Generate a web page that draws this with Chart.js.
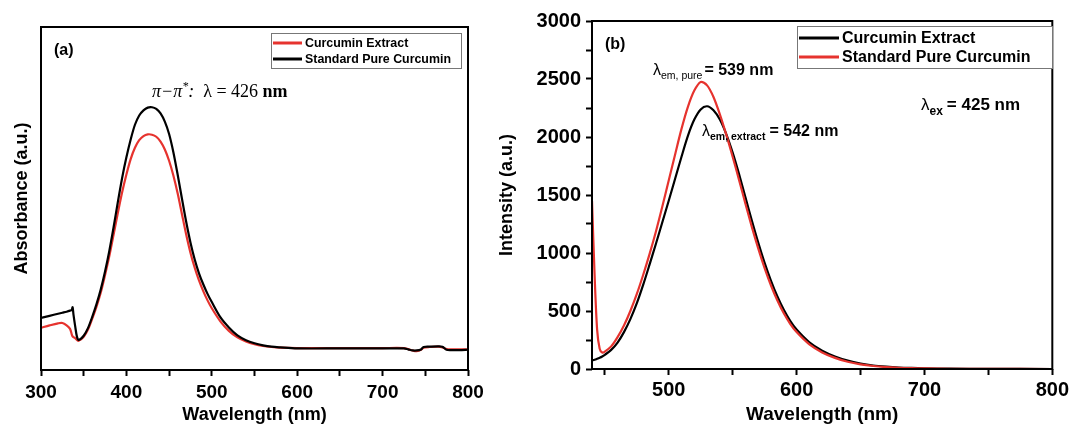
<!DOCTYPE html>
<html>
<head>
<meta charset="utf-8">
<script src="https://cdn.jsdelivr.net/npm/chart.js@4.4.0/dist/chart.umd.min.js"></script>
<style>
  body { margin: 0; background: #fff; }
  #wrap { position: relative; width: 1072px; height: 426px; overflow: hidden; background: #fff; }
  canvas { position: absolute; top: 0; }
</style>
</head>
<body>
<div id="wrap">
  <canvas id="absChart" width="490" height="426" style="left:0"></canvas>
  <canvas id="emChart" width="582" height="426" style="left:490px"></canvas>
</div>
<script>
// (a) UV-vis absorbance, arbitrary units (0..1 of the axis)
const absWavelength = [300,310,320,325,330,334,336,337,338,340,342,344,350,355,360,365,370,375,380,385,
  390,395,400,405,410,415,420,425,430,435,440,445,450,455,460,465,470,475,480,485,490,495,500,510,520,
  530,540,550,560,570,580,600,650,700,725,730,735,740,745,748,755,765,770,775,780,790,800];
const absExtract = [.123,.130,.136,.137,.130,.120,.104,.098,.096,.093,.088,.085,.097,.118,.150,.185,.226,.277,.332,.395,
  .458,.518,.570,.615,.648,.670,.682,.687,.686,.680,.666,.643,.610,.567,.515,.455,.395,.342,.298,.261,.230,.203,.180,.142,.114,
  .095,.083,.075,.070,.067,.065,.064,.064,.064,.064,.061,.057,.055,.059,.065,.067,.068,.066,.061,.060,.060,.060];
const absPure = [.152,.158,.164,.167,.170,.173,.175,.183,.162,.128,.098,.088,.100,.122,.155,.192,.235,.287,.347,.416,
  .490,.560,.620,.672,.715,.742,.757,.765,.766,.761,.748,.724,.688,.635,.570,.500,.432,.372,.322,.282,.250,.222,.198,.154,.124,
  .101,.087,.078,.072,.068,.066,.063,.063,.063,.063,.060,.057,.057,.060,.067,.068,.069,.068,.059,.058,.058,.059];

// (b) fluorescence emission, excitation 425 nm
const emWavelength = [440,442,444,446,448,450,455,460,465,470,475,480,485,490,495,500,505,510,515,520,
  525,530,535,540,545,550,555,560,565,570,575,580,585,590,595,600,610,620,630,640,650,660,670,680,690,
  700,720,750,800];
const emExtract = [75,80,88,97,108,122,165,228,318,430,565,725,900,1080,1265,1450,1640,1830,2010,2150,
  2238,2265,2230,2150,2025,1865,1680,1480,1280,1090,915,760,625,510,415,340,230,158,108,72,47,30,20,13,9,
  6,3,1,0];
const emPure = [1450,820,340,175,142,150,195,275,375,500,645,810,990,1185,1400,1625,1850,2070,2260,2400,
  2475,2445,2345,2195,2020,1830,1630,1425,1225,1040,870,720,590,480,390,318,212,143,96,62,40,26,17,11,7,
  5,2,1,0];

const RED = '#e6332e';
const BLACK = '#000000';
const SANS = '"Liberation Sans", Arial, sans-serif';
const SERIF = '"Liberation Serif", "Times New Roman", serif';

function points(xs, ys) {
  return xs.map((x, i) => ({ x: x, y: ys[i] }));
}

// frame round the plot area
const frame = {
  id: 'frame',
  afterDraw(chart) {
    const { ctx, chartArea: a } = chart;
    ctx.save();
    ctx.strokeStyle = '#000';
    ctx.lineWidth = 2;
    ctx.strokeRect(a.left, a.top, a.right - a.left, a.bottom - a.top);
    ctx.restore();
  }
};

// boxed legend inside the plot, built from the datasets
function boxLegend(cfg) {
  return {
    id: 'boxLegend',
    afterDraw(chart) {
      const ctx = chart.ctx;
      ctx.save();
      ctx.fillStyle = '#fff';
      ctx.fillRect(cfg.x, cfg.y, cfg.w, cfg.h);
      ctx.strokeStyle = '#777';
      ctx.lineWidth = 1;
      ctx.strokeRect(cfg.x + 0.5, cfg.y + 0.5, cfg.w, cfg.h);
      ctx.font = cfg.font;
      ctx.textBaseline = 'middle';
      cfg.order.forEach((di, row) => {
        const ds = chart.data.datasets[di];
        const y = cfg.rowY[row];
        ctx.strokeStyle = ds.borderColor;
        ctx.lineWidth = 3;
        ctx.beginPath();
        ctx.moveTo(cfg.x + 2, y);
        ctx.lineTo(cfg.x + 2 + cfg.lineLen, y);
        ctx.stroke();
        ctx.fillStyle = '#000';
        ctx.fillText(ds.label, cfg.x + cfg.lineLen + 5, y + 1);
      });
      ctx.restore();
    }
  };
}

// free text with sub/superscripts
function notes(items) {
  return {
    id: 'notes',
    afterDraw(chart) {
      const ctx = chart.ctx;
      ctx.save();
      ctx.fillStyle = '#000';
      ctx.textBaseline = 'alphabetic';
      items.forEach(it => {
        let x = it.x;
        it.runs.forEach(r => {
          ctx.font = r.font;
          ctx.fillText(r.text, x, it.y + (r.dy || 0));
          x += ctx.measureText(r.text).width + (r.gap || 0);
        });
      });
      ctx.restore();
    }
  };
}

function xAxis(min, max, size, height) {
  return {
    type: 'linear', min: min, max: max,
    afterFit: s => { s.height = height; },
    border: { display: false },
    grid: { drawOnChartArea: false, tickLength: 6, tickColor: '#000', tickWidth: 2 },
    ticks: {
      stepSize: 50, includeBounds: false, autoSkip: false, maxRotation: 0,
      color: '#000', padding: size === 19 ? 5 : 3,
      font: { family: SANS, size: size, weight: 'bold' },
      callback: v => (v % 100 === 0 ? v : '')
    },
    title: {
      display: true, text: 'Wavelength (nm)', color: '#000', padding: { top: 0, bottom: 0 },
      font: { family: SANS, size: size === 19 ? 18 : 19, weight: 'bold' }
    }
  };
}

const lineStyle = { borderWidth: 2.2, tension: 0.3, capBezierPoints: true };

// (a)
new Chart(document.getElementById('absChart'), {
  type: 'line',
  data: {
    datasets: [
      { label: 'Curcumin Extract', data: points(absWavelength, absExtract), borderColor: RED, order: 1 },
      { label: 'Standard Pure Curcumin', data: points(absWavelength, absPure), borderColor: BLACK, order: 0 }
    ]
  },
  options: {
    responsive: false, animation: false, devicePixelRatio: 1,
    layout: { padding: { top: 27, right: 22, left: 0, bottom: 0 } },
    elements: { point: { radius: 0 }, line: lineStyle },
    plugins: { legend: { display: false }, tooltip: { enabled: false } },
    scales: {
      x: xAxis(300, 800, 19, 56),
      y: {
        min: 0, max: 1,
        afterFit: s => { s.width = 41; },
        border: { display: false },
        grid: { display: false },
        ticks: { display: false },
        title: {
          display: true, text: 'Absorbance (a.u.)', color: '#000', padding: { top: 11, bottom: 0 },
          font: { family: SANS, size: 18, weight: 'bold' }
        }
      }
    }
  },
  plugins: [
    frame,
    boxLegend({ x: 271, y: 33, w: 190, h: 35, lineLen: 29, rowY: [43, 59], order: [0, 1],
      font: 'bold 12.4px ' + SANS }),
    notes([
      { x: 54, y: 55, runs: [{ text: '(a)', font: 'bold 16px ' + SANS }] },
      { x: 152, y: 97, runs: [
        { text: 'π−π', font: 'italic 18px ' + SERIF },
        { text: '*', font: 'italic 12px ' + SERIF, dy: -7 },
        { text: ':  ', font: 'italic 18px ' + SERIF },
        { text: 'λ = 426 ', font: '18px ' + SERIF },
        { text: 'nm', font: 'bold 18px ' + SERIF }
      ] }
    ])
  ]
});

// (b)
new Chart(document.getElementById('emChart'), {
  type: 'line',
  data: {
    datasets: [
      { label: 'Curcumin Extract', data: points(emWavelength, emExtract), borderColor: BLACK, order: 1 },
      { label: 'Standard Pure Curcumin', data: points(emWavelength, emPure), borderColor: RED, order: 0 }
    ]
  },
  options: {
    responsive: false, animation: false, devicePixelRatio: 1,
    layout: { padding: { top: 21, right: 18, left: 0, bottom: 0 } },
    elements: { point: { radius: 0 }, line: lineStyle },
    plugins: { legend: { display: false }, tooltip: { enabled: false } },
    scales: {
      x: xAxis(440, 800, 20, 57),
      y: {
        min: 0, max: 3000,
        afterFit: s => { s.width = 102; },
        border: { display: false },
        grid: { drawOnChartArea: false, tickLength: 6, tickColor: '#000', tickWidth: 2 },
        ticks: {
          stepSize: 250, autoSkip: false, color: '#000', padding: 5,
          font: { family: SANS, size: 20, weight: 'bold' },
          callback: v => (v % 500 === 0 ? v : '')
        },
        title: {
          display: true, text: 'Intensity (a.u.)', color: '#000', padding: { top: 6, bottom: 0 },
          font: { family: SANS, size: 18, weight: 'bold' }
        }
      }
    }
  },
  plugins: [
    frame,
    boxLegend({ x: 307, y: 26, w: 255, h: 42, lineLen: 40, rowY: [38, 57], order: [0, 1],
      font: 'bold 16px ' + SANS }),
    notes([
      { x: 115, y: 49, runs: [{ text: '(b)', font: 'bold 16px ' + SANS }] },
      { x: 163, y: 75, runs: [
        { text: 'λ', font: '16px ' + SANS },
        { text: 'em, pure', font: '10.5px ' + SANS, dy: 4, gap: 2 },
        { text: '= 539 nm', font: 'bold 16px ' + SANS }
      ] },
      { x: 212, y: 136, runs: [
        { text: 'λ', font: '16px ' + SANS },
        { text: 'em, extract', font: 'bold 10.5px ' + SANS, dy: 4, gap: 4 },
        { text: '= 542 nm', font: 'bold 16px ' + SANS }
      ] },
      { x: 431, y: 110, runs: [
        { text: 'λ', font: '17px ' + SANS },
        { text: 'ex', font: 'bold 12px ' + SANS, dy: 5, gap: 4 },
        { text: '= 425 nm', font: 'bold 17px ' + SANS }
      ] }
    ])
  ]
});
</script>
</body>
</html>
